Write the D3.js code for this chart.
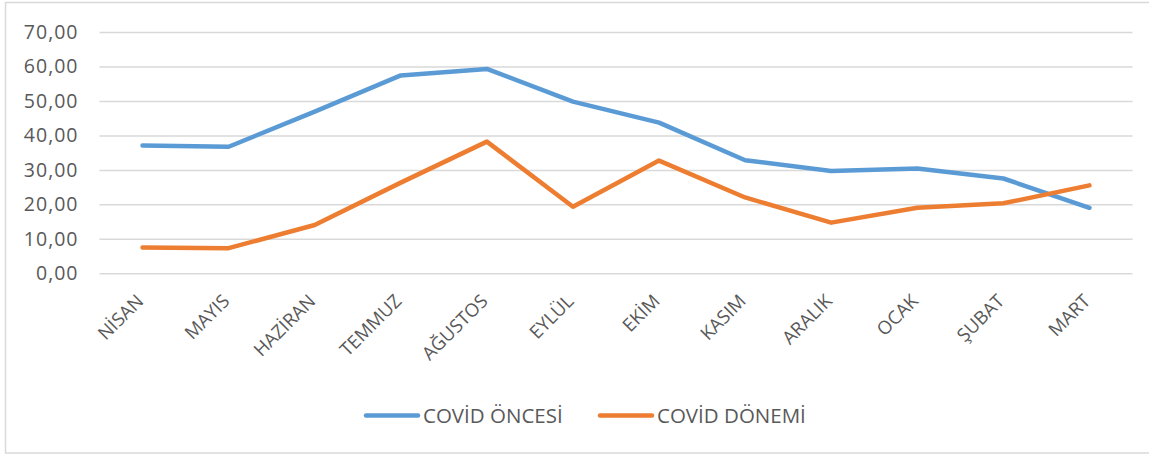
<!DOCTYPE html>
<html>
<head>
<meta charset="utf-8">
<script src="https://cdn.jsdelivr.net/npm/d3@7"></script>
<style>
  body { margin: 0; background: #fff; }
  svg text { font-family: "Open Sans", sans-serif; fill: #595959; }
</style>
</head>
<body>
<div id="chart"></div>
<script>
// months, Turkish labels
var months = ["NİSAN", "MAYIS", "HAZİRAN", "TEMMUZ", "AĞUSTOS", "EYLÜL",
              "EKİM", "KASIM", "ARALIK", "OCAK", "ŞUBAT", "MART"];
var oncesi = [37.1, 36.7, 46.9, 57.4, 59.3, 49.8, 43.7, 32.8, 29.7, 30.4, 27.5, 19.0];
var donemi = [7.5, 7.3, 14.0, 26.3, 38.2, 19.3, 32.7, 22.0, 14.7, 19.0, 20.3, 25.5];
var yTicks = [0, 10, 20, 30, 40, 50, 60, 70];
var seriesNames = ["COVİD ÖNCESİ", "COVİD DÖNEMİ"];
var seriesColors = ["#5B9BD5", "#ED7D31"];

var W = 1149, H = 455;
var margin = { left: 99.5, right: 16.5, top: 32, bottom: 181.7 };
var width = W - margin.left - margin.right;
var height = H - margin.top - margin.bottom;

var svg = d3.select("#chart").append("svg")
    .attr("width", W)
    .attr("height", H);

// chart area border
svg.append("rect")
    .attr("x", 5.5).attr("y", 2.5)
    .attr("width", W + 10).attr("height", 450.5)
    .attr("fill", "none")
    .attr("stroke", "#D9D9D9")
    .attr("stroke-width", 1.5);

var g = svg.append("g")
    .attr("transform", "translate(" + margin.left + "," + margin.top + ")");

var x = d3.scaleBand().domain(months).range([0, width]);
var y = d3.scaleLinear().domain([0, 70]).range([height, 0]);

var fmt = function(d) { return d3.format(".2f")(d).replace(".", ","); };

// y axis + gridlines
var yAxis = g.append("g")
    .call(d3.axisLeft(y).tickValues(yTicks).tickSize(-width).tickFormat(fmt));
yAxis.select(".domain").remove();
yAxis.selectAll(".tick line")
    .attr("stroke", "#D9D9D9")
    .attr("stroke-width", 1.5);
yAxis.selectAll(".tick text")
    .attr("x", -21)
    .attr("font-size", "19.5px")
    .attr("letter-spacing", "1px");

// x axis labels (rotated)
var xAxis = g.append("g")
    .attr("transform", "translate(0," + height + ")")
    .call(d3.axisBottom(x).tickSize(0));
xAxis.select(".domain").remove();
xAxis.selectAll(".tick text")
    .attr("font-size", "18.5px")
    .attr("text-anchor", "end")
    .attr("x", 0).attr("y", 0).attr("dy", 0)
    .attr("transform", "translate(2,29) rotate(-45)");

var line = d3.line()
    .x(function(d, i) { return x(months[i]) + x.bandwidth() / 2; })
    .y(function(d) { return y(d); });

[oncesi, donemi].forEach(function(vals, k) {
    g.append("path")
        .datum(vals)
        .attr("fill", "none")
        .attr("stroke", seriesColors[k])
        .attr("stroke-width", 4.5)
        .attr("stroke-linejoin", "round")
        .attr("stroke-linecap", "round")
        .attr("d", line);
});

// legend
var legendX = [366, 600];
var legend = svg.append("g");
seriesNames.forEach(function(name, k) {
    legend.append("line")
        .attr("x1", legendX[k]).attr("x2", legendX[k] + 52)
        .attr("y1", 415.5).attr("y2", 415.5)
        .attr("stroke", seriesColors[k])
        .attr("stroke-width", 4.5)
        .attr("stroke-linecap", "round");
    legend.append("text")
        .attr("x", legendX[k] + 57)
        .attr("y", 415.5)
        .attr("dy", "0.36em")
        .attr("font-size", "20.5px")
        .text(name);
});
</script>
</body>
</html>
